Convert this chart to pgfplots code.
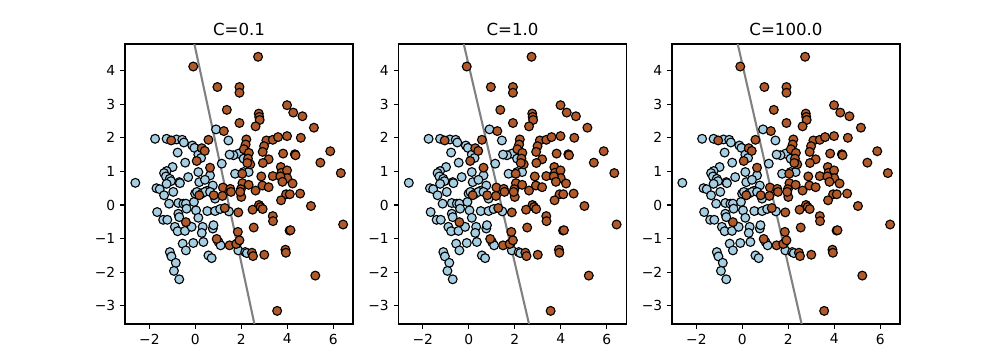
\documentclass[border=0pt]{standalone}
\usepackage{fontspec}
\setmainfont{DejaVu Sans}
\usepackage{pgfplots}
\usepackage{pgfplotstable}
\pgfplotsset{compat=1.18}
\definecolor{lb}{HTML}{A6CEE3}
\definecolor{br}{HTML}{B15928}

\pgfplotstableread{
x y
-2.61 0.66
-1.75 1.97
-1.25 1.97
-0.82 1.95
-0.57 1.94
-0.50 1.86
-0.13 1.77
-0.04 1.70
0.90 2.25
-0.77 1.56
0.13 1.50
0.25 1.40
-0.44 1.26
-0.99 1.13
-1.25 1.01
-1.36 0.95
-1.28 0.85
-1.11 0.78
-0.31 0.83
0.13 0.98
0.64 0.88
-0.70 0.68
-1.06 0.71
0.17 0.68
0.42 0.75
0.76 0.58
-1.69 0.50
-1.55 0.47
0.50 0.42
-1.36 0.29
-1.25 0.63
-0.67 0.65
-0.96 0.39
-0.74 0.06
-0.52 0.04
-0.41 0.04
-1.14 0.04
-0.06 0.09
-0.01 0.34
0.07 0.39
0.28 0.34
0.42 0.39
0.64 0.39
0.86 0.19
-1.66 -0.21
-1.40 -0.44
-1.22 -0.44
-0.74 -0.26
-0.70 -0.36
-0.38 -0.11
0.03 -0.16
0.13 -0.38
0.52 -0.18
0.86 -0.18
1.08 -0.12
1.46 -0.19
-0.89 -0.65
-0.77 -0.78
-0.45 -0.77
-0.16 -0.65
0.32 -0.65
0.28 -0.83
0.76 -0.70
0.79 -0.60
-0.55 -1.15
-0.41 -1.35
-0.09 -1.13
0.35 -1.10
-1.11 -1.40
-1.04 -1.53
0.57 -1.50
0.71 -1.58
-0.85 -1.72
-0.93 -1.96
-0.70 -2.21
1.01 -1.10
1.10 -1.20
1.82 -1.14
1.87 -1.35
2.17 -1.40
2.24 -1.43
1.44 1.92
1.15 1.23
1.88 1.53
2.10 1.38
1.66 1.48
1.73 0.93
2.10 0.98
2.32 0.98
1.49 1.50
}\bluedata

\pgfplotstableread{
x y
-0.09 4.12
2.73 4.41
0.96 3.51
1.92 3.51
1.92 3.34
1.37 2.83
2.76 2.72
2.78 2.62
2.80 2.53
2.62 2.34
1.92 2.44
3.99 2.97
4.26 2.75
4.66 2.64
5.16 2.30
1.24 2.20
0.57 1.94
0.28 1.69
0.41 1.61
-1.05 1.92
2.22 1.95
2.19 1.80
2.11 1.66
2.33 1.55
2.29 1.38
2.39 1.21
2.26 1.25
3.09 1.92
2.99 1.75
3.37 1.94
3.60 2.02
3.99 2.05
4.59 2.00
3.82 1.53
4.33 1.51
4.36 1.48
2.93 1.58
3.19 1.36
2.94 1.25
5.44 1.26
5.87 1.60
6.33 0.95
6.43 -0.58
5.22 -2.10
3.56 -3.15
0.06 1.31
0.64 1.11
2.04 0.93
2.05 0.65
2.32 0.60
2.62 0.43
2.87 0.85
2.92 0.58
3.19 0.53
3.37 0.86
3.72 1.13
3.75 0.96
3.99 1.03
4.00 0.80
3.70 0.85
3.79 0.69
4.23 0.64
4.56 0.34
3.95 0.32
4.11 0.32
3.73 0.14
5.03 -0.03
2.77 0.00
2.84 -0.06
2.93 -0.12
2.49 -0.14
3.37 -0.33
3.38 -0.48
1.87 -0.22
1.28 -0.09
0.80 0.29
1.20 0.52
1.18 0.27
1.52 0.48
1.55 0.39
1.98 0.47
2.00 0.24
1.95 0.39
0.17 0.29
-0.41 -0.51
0.93 -1.01
1.85 -0.80
1.49 -1.20
1.78 -1.16
1.92 -1.05
2.46 -1.42
2.51 -1.52
3.00 -1.48
2.54 -0.67
4.10 -0.76
4.14 -0.75
3.92 -1.33
3.94 -1.42
}\browndata

\pgfplotsset{svmaxis/.style={
  scale only axis, width=164.16bp, height=201.6bp,
  xmin=-3.06, xmax=6.86, ymin=-3.54, ymax=4.79,
  xtick={-2,0,2,4,6}, xticklabels={−2,0,2,4,6},
  ytick={-3,-2,-1,0,1,2,3,4}, yticklabels={−3,−2,−1,0,1,2,3,4},
  tick align=outside, tick pos=left,
  major tick length=3.5pt,
  every tick/.style={black, line width=0.8pt},
  axis line style={line width=0.8pt},
  tick label style={font=\fontsize{10}{12}\selectfont},
  title style={font=\fontsize{12}{14}\selectfont, at={(0.5,1)}, anchor=base, yshift=0bp},
  anchor=south west,
}}
\pgfplotsset{
  bluepts/.style={only marks, mark=*, mark size=3.2pt, mark options={fill=lb, draw=black, line width=0.8pt}},
  brownpts/.style={only marks, mark=*, mark size=3.2pt, mark options={fill=br, draw=black, line width=0.8pt}},
  sepline/.style={no marks, color=gray, line width=1.5pt},
}

\begin{document}
\begin{tikzpicture}
\useasboundingbox (0,0) rectangle (720bp,262.08bp);
\begin{axis}[svmaxis, at={(90bp,28.8bp)}, title={C=0.1}]
\addplot[sepline] coordinates {(-0.04,4.79) (2.57,-3.54)};
\addplot[bluepts] table {\bluedata};
\addplot[brownpts] table {\browndata};
\end{axis}
\begin{axis}[svmaxis, at={(286.9bp,28.8bp)}, title={C=1.0}]
\addplot[sepline] coordinates {(-0.22,4.79) (2.62,-3.54)};
\addplot[bluepts] table {\bluedata};
\addplot[brownpts] table {\browndata};
\end{axis}
\begin{axis}[svmaxis, at={(483.84bp,28.8bp)}, title={C=100.0}]
\addplot[sepline] coordinates {(-0.20,4.79) (2.58,-3.54)};
\addplot[bluepts] table {\bluedata};
\addplot[brownpts] table {\browndata};
\end{axis}
\end{tikzpicture}
\end{document}
